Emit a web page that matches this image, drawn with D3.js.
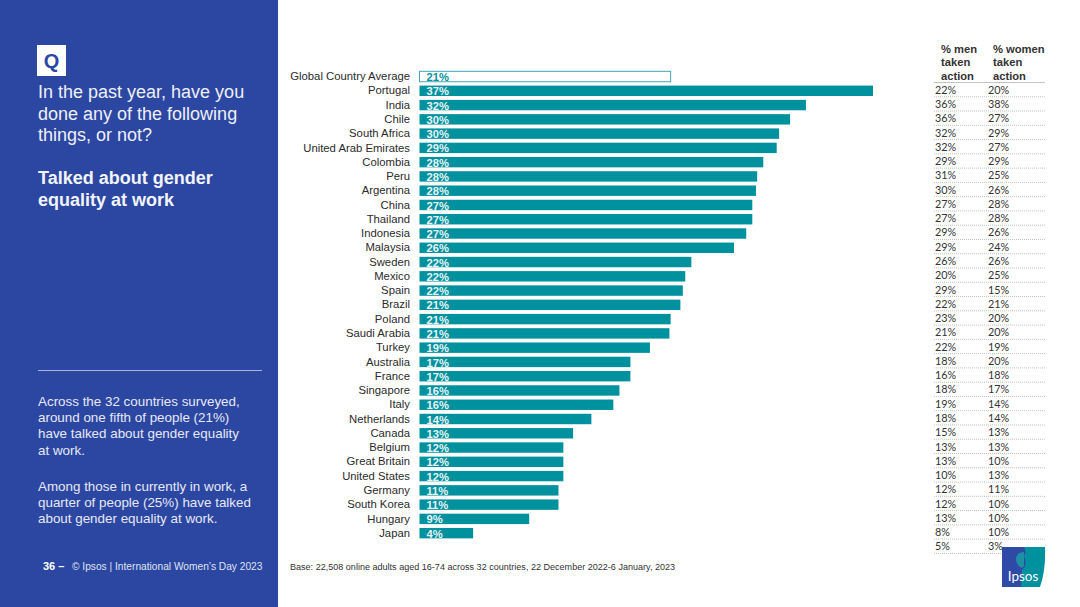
<!DOCTYPE html>
<html>
<head>
<meta charset="utf-8">
<script src="https://cdn.jsdelivr.net/npm/d3@7"></script>
<style>
html, body { margin: 0; padding: 0; background: #fff; }
svg { display: block; font-family: "Liberation Sans", Arial, sans-serif; }
</style>
</head>
<body>
<div id="canvas"></div>
<script>
"use strict"

let countries = ["Global Country Average", "Portugal", "India", "Chile", "South Africa", "United Arab Emirates",
    "Colombia", "Peru", "Argentina", "China", "Thailand", "Indonesia", "Malaysia", "Sweden", "Mexico", "Spain",
    "Brazil", "Poland", "Saudi Arabia", "Turkey", "Australia", "France", "Singapore", "Italy", "Netherlands",
    "Canada", "Belgium", "Great Britain", "United States", "Germany", "South Korea", "Hungary", "Japan"];

// bar lengths, labels are the printed (rounded) numbers
let barValues = [20.6, 37.2, 31.7, 30.4, 29.5, 29.3, 28.2, 27.7, 27.6, 27.3, 27.3, 26.8, 25.8, 22.3, 21.8, 21.6,
    21.4, 20.6, 20.5, 18.9, 17.3, 17.3, 16.4, 15.9, 14.1, 12.6, 11.8, 11.8, 11.8, 11.4, 11.4, 9.0, 4.4];
let barLabels = [21, 37, 32, 30, 30, 29, 28, 28, 28, 27, 27, 27, 26, 22, 22, 22, 21, 21, 21, 19, 17, 17, 16, 16,
    14, 13, 12, 12, 12, 11, 11, 9, 4];

let menValues = [22, 36, 36, 32, 32, 29, 31, 30, 27, 27, 29, 29, 26, 20, 29, 22, 23, 21, 22, 18, 16, 18, 19, 18,
    15, 13, 13, 10, 12, 12, 13, 8, 5];
let womenValues = [20, 38, 27, 29, 27, 29, 25, 26, 28, 28, 26, 24, 26, 25, 15, 21, 20, 20, 19, 20, 18, 17, 14, 14,
    13, 13, 10, 13, 11, 10, 10, 10, 3];

let menHeader = ["% men", "taken", "action"];
let womenHeader = ["% women", "taken", "action"];

let questionLines = ["In the past year, have you", "done any of the following", "things, or not?"];
let topicLines = ["Talked about gender", "equality at work"];
let noteLines1 = ["Across the 32 countries surveyed,", "around one fifth of people (21%)",
    "have talked about gender equality", "at work."];
let noteLines2 = ["Among those in currently in work, a", "quarter of people (25%) have talked",
    "about gender equality at work."];

let blue = "#2c47a1";
let teal = "#00919f";

let drawing = d3.select("#canvas")
    .append("svg")
    .attr("width", 1080)
    .attr("height", 607);

// Left panel
drawing.append("rect")
    .attr("width", 278)
    .attr("height", 607)
    .attr("fill", blue);

drawing.append("rect")
    .attr("x", 37)
    .attr("y", 45)
    .attr("width", 29)
    .attr("height", 31)
    .attr("fill", "white");

drawing.append("text")
    .attr("x", 51.5)
    .attr("y", 67.5)
    .attr("text-anchor", "middle")
    .attr("font-size", 20)
    .attr("font-weight", "bold")
    .attr("fill", blue)
    .text("Q");

function textBlock(lines, x, y, step, size, weight, color) {
    drawing.append("g").selectAll("text")
        .data(lines)
        .join("text")
        .attr("x", x)
        .attr("y", (d, i) => y + i * step)
        .attr("font-size", size)
        .attr("font-weight", weight)
        .attr("fill", color)
        .text(d => d);
}

textBlock(questionLines, 38, 98, 21.5, 18, "normal", "#eef0f8");
textBlock(topicLines, 38, 184, 21.5, 18, "bold", "#f2f4fa");

drawing.append("line")
    .attr("x1", 38)
    .attr("x2", 262)
    .attr("y1", 370.5)
    .attr("y2", 370.5)
    .attr("stroke", "#aab4da")
    .attr("stroke-width", 1);

textBlock(noteLines1, 38, 406, 16.2, 13.4, "normal", "#e6e9f5");
textBlock(noteLines2, 38, 491, 16.2, 13.4, "normal", "#e6e9f5");

drawing.append("text")
    .attr("x", 43)
    .attr("y", 570)
    .attr("font-size", 11)
    .attr("font-weight", "bold")
    .attr("fill", "white")
    .text("36 –");

drawing.append("text")
    .attr("x", 72)
    .attr("y", 570)
    .attr("font-size", 10.2)
    .attr("fill", "#dfe3f2")
    .text("© Ipsos | International Women’s Day 2023");

// Bars
let xScale = d3.scaleLinear()
    .domain([0, 37.2])
    .range([419.5, 873]);

let yScale = d3.scaleBand()
    .domain(countries)
    .range([69.4, 540.3])
    .paddingInner(0.27)
    .paddingOuter(0.135);

drawing.append("g")
    .attr("transform", "translate(419,0)")
    .call(d3.axisLeft(yScale).tickSize(0).tickPadding(9))
    .call(g => g.select(".domain").remove())
    .call(g => g.selectAll("text")
        .attr("font-family", "Liberation Sans, Arial, sans-serif")
        .attr("font-size", 11.3)
        .attr("fill", "#2b2b2b"));

drawing.append("g").selectAll("rect")
    .data(countries)
    .join("rect")
    .attr("x", xScale(0))
    .attr("y", d => yScale(d))
    .attr("width", (d, i) => xScale(barValues[i]) - xScale(0))
    .attr("height", yScale.bandwidth())
    .attr("fill", (d, i) => i === 0 ? "white" : teal)
    .attr("stroke", (d, i) => i === 0 ? "#3fa9b4" : "none")
    .attr("stroke-width", 1);

drawing.append("g").selectAll("text")
    .data(countries)
    .join("text")
    .attr("x", 426.5)
    .attr("y", d => yScale(d) + yScale.bandwidth() / 2 + 4.6)
    .attr("font-size", 11.2)
    .attr("font-weight", "bold")
    .attr("fill", (d, i) => i === 0 ? teal : "#e6f4f5")
    .text((d, i) => barLabels[i] + "%");

// Table on the right
textBlock(menHeader, 941, 53, 13.4, 11.2, "bold", "#333");
textBlock(womenHeader, 993, 53, 13.4, 11.2, "bold", "#333");

let rowScale = d3.scaleLinear()
    .domain([0, menValues.length])
    .range([82.5, 553.4]);

drawing.append("line")
    .attr("x1", 934)
    .attr("x2", 1045)
    .attr("y1", rowScale(0))
    .attr("y2", rowScale(0))
    .attr("stroke", "#c4c4c4")
    .attr("stroke-width", 1);

drawing.append("g").selectAll("line")
    .data(menValues)
    .join("line")
    .attr("x1", 934)
    .attr("x2", 1045)
    .attr("y1", (d, i) => rowScale(i + 1))
    .attr("y2", (d, i) => rowScale(i + 1))
    .attr("stroke", "#a8a8a8")
    .attr("stroke-width", 0.7)
    .attr("stroke-dasharray", "1 1");

function tableColumn(values, x) {
    drawing.append("g").selectAll("text")
        .data(values)
        .join("text")
        .attr("x", x)
        .attr("y", (d, i) => rowScale(i + 1) - 3)
        .attr("font-family", "Lato, sans-serif")
        .attr("font-size", 10.8)
        .attr("fill", "#333")
        .text(d => d + "%");
}

tableColumn(menValues, 935);
tableColumn(womenValues, 988);

// Base note
drawing.append("text")
    .attr("x", 290)
    .attr("y", 570)
    .attr("font-size", 9.05)
    .attr("fill", "#333")
    .text("Base: 22,508 online adults aged 16-74 across 32 countries, 22 December 2022-6 January, 2023");

// Ipsos logo
let logo = drawing.append("g");

logo.append("path")
    .attr("d", "M1002 547H1045Q1046 570 1040 587H1002Z")
    .attr("fill", teal);

logo.append("path")
    .attr("d", "M1002 547H1024Q1027 552 1024 556Q1028 565 1022 570L1021 587H1002Z")
    .attr("fill", "#2f49a6");

logo.append("path")
    .attr("d", "M1024 552Q1016 552 1016 560Q1017 566 1022 568L1024 566Z")
    .attr("fill", "#1f8fa6");

logo.append("text")
    .attr("x", 1023)
    .attr("y", 581)
    .attr("text-anchor", "middle")
    .attr("font-family", "Lato, sans-serif")
    .attr("font-size", 13.5)
    .attr("fill", "white")
    .text("Ipsos");
</script>
</body>
</html>
